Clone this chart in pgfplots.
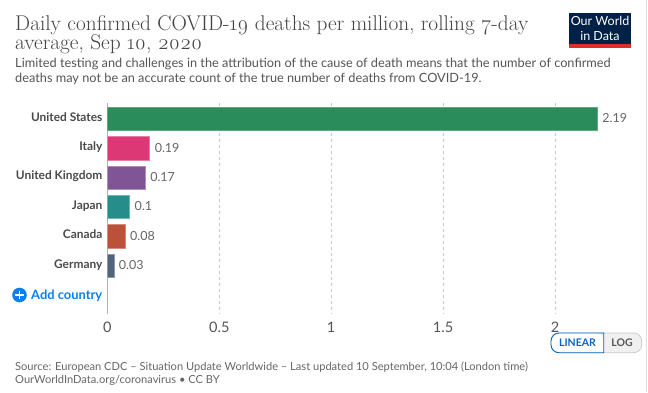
\documentclass[border=0pt]{standalone}
\usepackage{fontspec}
\setmainfont{Lato}
\newfontfamily\titlefont[Numbers=OldStyle]{Latin Modern Roman}
\usepackage{pgfplots}
\pgfplotsset{compat=1.18}
\definecolor{usg}{HTML}{2A8B5B}
\definecolor{itp}{HTML}{DC3876}
\definecolor{ukp}{HTML}{7F5596}
\definecolor{jpt}{HTML}{268E8A}
\definecolor{cao}{HTML}{BC503A}
\definecolor{deb}{HTML}{50647C}
\definecolor{owid}{HTML}{002147}
\definecolor{owidred}{HTML}{DC2E2E}
\definecolor{txt}{HTML}{555555}
\definecolor{ttl}{HTML}{444444}
\definecolor{lbl}{HTML}{4A4A4A}
\definecolor{val}{HTML}{666666}
\definecolor{blu}{HTML}{0A7FF0}
\begin{document}
\begin{tikzpicture}[x=1pt,y=1pt]
\path[use as bounding box,fill=white] (0,0) rectangle (648,392);
\draw[black!12,line width=0.8pt] (646.5,0) -- (646.5,392);
\node[anchor=base west,inner sep=0,text=ttl] at (15,392-31) {\titlefont\fontsize{21.3}{24}\selectfont Daily confirmed COVID-19 deaths per million, rolling 7-day};
\node[anchor=base west,inner sep=0,text=ttl] at (15,392-49.5) {\titlefont\fontsize{21.3}{24}\selectfont average, Sep 10, 2020};
\node[anchor=base west,inner sep=0,text=txt] at (15,392-67) {\fontsize{12.75}{15}\selectfont Limited testing and challenges in the attribution of the cause of death means that the number of confirmed};
\node[anchor=base west,inner sep=0,text=txt] at (15,392-82) {\fontsize{12.75}{15}\selectfont deaths may not be an accurate count of the true number of deaths from COVID-19.};
% logo
\fill[owid] (569,392-13) rectangle (631,392-48);
\fill[owidred] (569,392-44) rectangle (631,392-48);
\node[text=white,anchor=center,inner sep=0,align=center,font=\fontsize{12.5}{14.5}\selectfont] at (600,392-28.5) {Our World\\in Data};
\begin{axis}[
  at={(107.4pt,78.5pt)},anchor=south west,
  scale only axis,width=490.1pt,height=210.5pt,
  xmin=0,xmax=2.19,ymin=-0.544,ymax=6.616,
  y dir=reverse,
  axis line style={draw=none},
  xtick={0,0.5,1,1.5,2},xticklabels={0,0.5,1,1.5,2},
  ytick={0,1,2,3,4,5},yticklabels={United States,Italy,United Kingdom,Japan,Canada,Germany},
  major tick length=0pt,
  xmajorgrids,
  grid style={dashed,draw=black!22,line width=0.6pt},
  xticklabel style={font=\fontsize{14.5}{16}\selectfont,text=txt,yshift=-5pt},
  yticklabel style={font=\fontsize{11.9}{14}\selectfont\bfseries,text=lbl,xshift=-1.5pt,yshift=1.2pt,text height=9pt,text depth=2.5pt},
  xbar,bar width=23.4pt,bar shift=0pt,
  clip=false,
  nodes near coords,
  nodes near coords style={font=\fontsize{12.5}{14}\selectfont,text=val,anchor=west,xshift=1pt,yshift=0.8pt},
  point meta=explicit symbolic,
]
\draw[black!30,line width=0.8pt] (axis cs:0,-0.544) -- (axis cs:0,6.616);
\addplot[draw=usg!75!white,fill=usg,line width=1pt] coordinates {(2.19,0)[2.19]};
\addplot[draw=itp!65!white,fill=itp,line width=1pt] coordinates {(0.19,1)[0.19]};
\addplot[draw=ukp!65!white,fill=ukp,line width=1pt] coordinates {(0.17,2)[0.17]};
\addplot[draw=jpt!65!white,fill=jpt,line width=1pt] coordinates {(0.10,3)[0.1]};
\addplot[draw=cao!65!white,fill=cao,line width=1pt] coordinates {(0.08,4)[0.08]};
\addplot[draw=deb!65!white,fill=deb,line width=1pt] coordinates {(0.03,5)[0.03]};
\end{axis}
% add country
\fill[blu] (19.5,392-295) circle (7.3);
\draw[white,line width=1.6pt] (15.2,392-295) -- (23.8,392-295) (19.5,392-290.7) -- (19.5,392-299.3);
\node[anchor=base west,inner sep=0,text=blu] at (31,392-299.5) {\fontsize{12.9}{15}\selectfont\bfseries Add country};
% linear/log
\fill[black!6,rounded corners=8pt] (551,392-333) rectangle (641.7,392-352.7);
\draw[black!22,rounded corners=8pt,line width=0.7pt] (551,392-333) rectangle (641.7,392-352.7);
\fill[white,rounded corners=8pt] (551,392-333) -- (603.7,392-333) [sharp corners] -- (603.7,392-352.7) [rounded corners=8pt] -- (551,392-352.7) -- cycle;
\draw[blu!80!black,line width=0.9pt] (603.7,392-352.7) [rounded corners=8pt] -- (551,392-352.7) -- (551,392-333) [sharp corners] -- (603.7,392-333) -- cycle;
\node[text=blu!80!black,inner sep=0,font=\fontsize{10.5}{12}\selectfont\bfseries] at (577.5,392-343) {LINEAR};
\node[text=txt,inner sep=0,font=\fontsize{10.5}{12}\selectfont\bfseries] at (622,392-343) {LOG};
% source
\node[anchor=base west,inner sep=0,text=val] at (15,392-370) {\fontsize{11.1}{14}\selectfont Source: European CDC – Situation Update Worldwide – Last updated 10 September, 10:04 (London time)};
\node[anchor=base west,inner sep=0,text=val] at (15,392-383) {\fontsize{11.1}{14}\selectfont OurWorldInData.org/coronavirus • CC BY};
\end{tikzpicture}
\end{document}
